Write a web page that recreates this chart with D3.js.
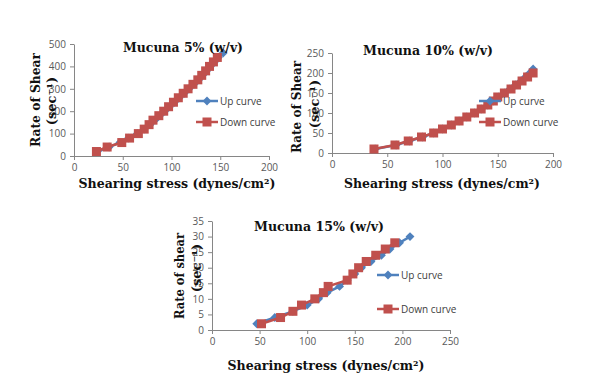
<!DOCTYPE html>
<html>
<head>
<meta charset="utf-8">
<script src="https://cdn.jsdelivr.net/npm/d3@7"></script>
<style>
  body { margin: 0; background: #fff; }
  .tick text { font-family: "Open Sans", "Liberation Sans", sans-serif; font-size: 10px; fill: #595959; }
  .tick line, .domain { stroke: #868686; }
  .ttl { font-family: "DejaVu Serif", serif; font-weight: bold; font-size: 13px; fill: #111; }
  .leg { font-family: "Open Sans", "Liberation Sans", sans-serif; font-size: 10px; fill: #404040; }
</style>
</head>
<body>
<svg id="chart" width="602" height="379"></svg>
<script>
// Mucuna 5% (w/v)
const up5Stress = [24, 36, 47, 56, 65, 72, 78, 83, 88, 93, 98, 103, 108, 113, 118, 123, 128, 132, 136, 140, 144, 148, 153];
const up5Rate = [20, 40, 60, 80, 100, 120, 140, 160, 180, 200, 220, 240, 260, 280, 300, 320, 340, 360, 380, 400, 420, 440, 460];
const down5Stress = [23, 34, 49, 57, 66, 72, 77, 81, 87, 92, 97, 102, 107, 112, 117, 122, 127, 131, 135, 139, 143, 147];
const down5Rate = [20, 40, 60, 80, 100, 120, 140, 160, 180, 200, 220, 240, 260, 280, 300, 320, 340, 360, 380, 400, 420, 440];

// Mucuna 10% (w/v)
const up10Stress = [39, 58, 70, 82, 92, 100, 108, 115, 122, 129, 135, 141, 146, 151, 156, 161, 166, 171, 175, 179, 182];
const up10Rate = [10, 20, 30, 40, 50, 60, 70, 80, 90, 100, 110, 120, 130, 140, 150, 160, 170, 180, 190, 200, 210];
const down10Stress = [38, 57, 69, 81, 92, 100, 108, 115, 122, 129, 135, 141, 146, 150, 156, 162, 167, 172, 177, 182];
const down10Rate = [10, 20, 30, 40, 50, 60, 70, 80, 90, 100, 110, 120, 130, 140, 150, 160, 170, 180, 190, 200];

// Mucuna 15% (w/v)
const up15Stress = [47, 66, 85, 100, 112, 121, 134, 142, 150, 157, 167, 178, 187, 197, 208];
const up15Rate = [2, 4, 6, 8, 10, 12, 14, 16, 18, 20, 22, 24, 26, 28, 30];
const down15Stress = [52, 72, 85, 94, 108, 117, 122, 142, 148, 154, 162, 172, 182, 192];
const down15Rate = [2, 4, 6, 8, 10, 12, 14, 16, 18, 20, 22, 24, 26, 28];

const legendLabels = ["Up curve", "Down curve"];
const blue = "#4F81BD", red = "#C0504D";

const svg = d3.select("#chart");

function drawChart(c) {
    const x = d3.scaleLinear().domain([0, c.xMax]).range([c.left, c.right]);
    const y = d3.scaleLinear().domain([0, c.yMax]).range([c.bottom, c.top]);
    const g = svg.append("g");

    // axes
    g.append("g")
        .attr("transform", `translate(0,${c.bottom})`)
        .call(d3.axisBottom(x).tickValues(d3.range(0, c.xMax + 1, 50)).tickSize(4).tickSizeOuter(0).tickPadding(4));
    g.append("g")
        .attr("transform", `translate(${c.left},0)`)
        .call(d3.axisLeft(y).tickValues(d3.range(0, c.yMax + 1, c.yStep)).tickSize(4).tickSizeOuter(0).tickPadding(4));

    const line = d3.line().x(d => x(d[0])).y(d => y(d[1]));
    const up = c.upX.map((v, i) => [v, c.upY[i]]);
    const down = c.downX.map((v, i) => [v, c.downY[i]]);

    // up curve (blue diamonds)
    g.append("path").datum(up).attr("d", line)
        .attr("fill", "none").attr("stroke", blue).attr("stroke-width", 2.5);
    g.selectAll(".up").data(up).enter().append("path")
        .attr("d", d3.symbol(d3.symbolDiamond2, 50))
        .attr("transform", d => `translate(${x(d[0])},${y(d[1])})`)
        .attr("fill", blue);

    // down curve (red squares)
    g.append("path").datum(down).attr("d", line)
        .attr("fill", "none").attr("stroke", red).attr("stroke-width", 2.5);
    g.selectAll(".dn").data(down).enter().append("rect")
        .attr("x", d => x(d[0]) - 4.5).attr("y", d => y(d[1]) - 4.5)
        .attr("width", 9).attr("height", 9)
        .attr("fill", red);

    // legend
    [blue, red].forEach((col, i) => {
        const ly = c.legY[i];
        g.append("line").attr("x1", c.legX).attr("x2", c.legX + 22)
            .attr("y1", ly).attr("y2", ly).attr("stroke", col).attr("stroke-width", 2.5);
        if (i === 0) {
            g.append("path").attr("d", d3.symbol(d3.symbolDiamond2, 50))
                .attr("transform", `translate(${c.legX + 11},${ly})`).attr("fill", col);
        } else {
            g.append("rect").attr("x", c.legX + 6.5).attr("y", ly - 4.5)
                .attr("width", 9).attr("height", 9).attr("fill", col);
        }
        g.append("text").attr("class", "leg").attr("x", c.legX + 24).attr("y", ly + 3.5)
            .text(legendLabels[i]);
    });

    // title
    g.append("text").attr("class", "ttl").attr("x", c.title[0]).attr("y", c.title[1])
        .attr("text-anchor", "middle").attr("textLength", c.title[2])
        .attr("lengthAdjust", "spacingAndGlyphs").text(c.titleText);

    // x label
    g.append("text").attr("class", "ttl").attr("x", c.xLab[0]).attr("y", c.xLab[1])
        .attr("text-anchor", "middle").attr("textLength", c.xLab[2])
        .attr("lengthAdjust", "spacingAndGlyphs")
        .text("Shearing stress (dynes/cm²)");

    // y label, two lines
    g.append("text").attr("class", "ttl")
        .attr("transform", `translate(${c.yLab1[0]},${c.yLab1[1]}) rotate(-90)`)
        .attr("text-anchor", "middle").attr("textLength", c.yLab1[2])
        .attr("lengthAdjust", "spacingAndGlyphs").text(c.yText);
    g.append("text").attr("class", "ttl")
        .attr("transform", `translate(${c.yLab2[0]},${c.yLab2[1]}) rotate(-90)`)
        .attr("text-anchor", "middle")
        .text("(sec⁻¹)");
}

drawChart({
    xMax: 200, yMax: 500, yStep: 100,
    left: 74, right: 269, top: 44, bottom: 156,
    upX: up5Stress, upY: up5Rate, downX: down5Stress, downY: down5Rate,
    legX: 196, legY: [101, 122],
    titleText: "Mucuna 5% (w/v)", title: [183, 52, 120],
    xLab: [177, 188, 197],
    yText: "Rate of Shear", yLab1: [40, 100, 94], yLab2: [56, 101]
});

drawChart({
    xMax: 200, yMax: 250, yStep: 50,
    left: 332, right: 553, top: 53, bottom: 153,
    upX: up10Stress, upY: up10Rate, downX: down10Stress, downY: down10Rate,
    legX: 479, legY: [101, 122],
    titleText: "Mucuna 10% (w/v)", title: [428, 55, 130],
    xLab: [442, 188, 196],
    yText: "Rate of Shear", yLab1: [301, 107, 92], yLab2: [319, 104]
});

drawChart({
    xMax: 250, yMax: 35, yStep: 5,
    left: 212, right: 450, top: 221, bottom: 330,
    upX: up15Stress, upY: up15Rate, downX: down15Stress, downY: down15Rate,
    legX: 377, legY: [275, 309],
    titleText: "Mucuna 15% (w/v)", title: [319, 231, 130],
    xLab: [326, 370, 197],
    yText: "Rate of shear", yLab1: [184, 276, 86], yLab2: [201, 268]
});
</script>
</body>
</html>
